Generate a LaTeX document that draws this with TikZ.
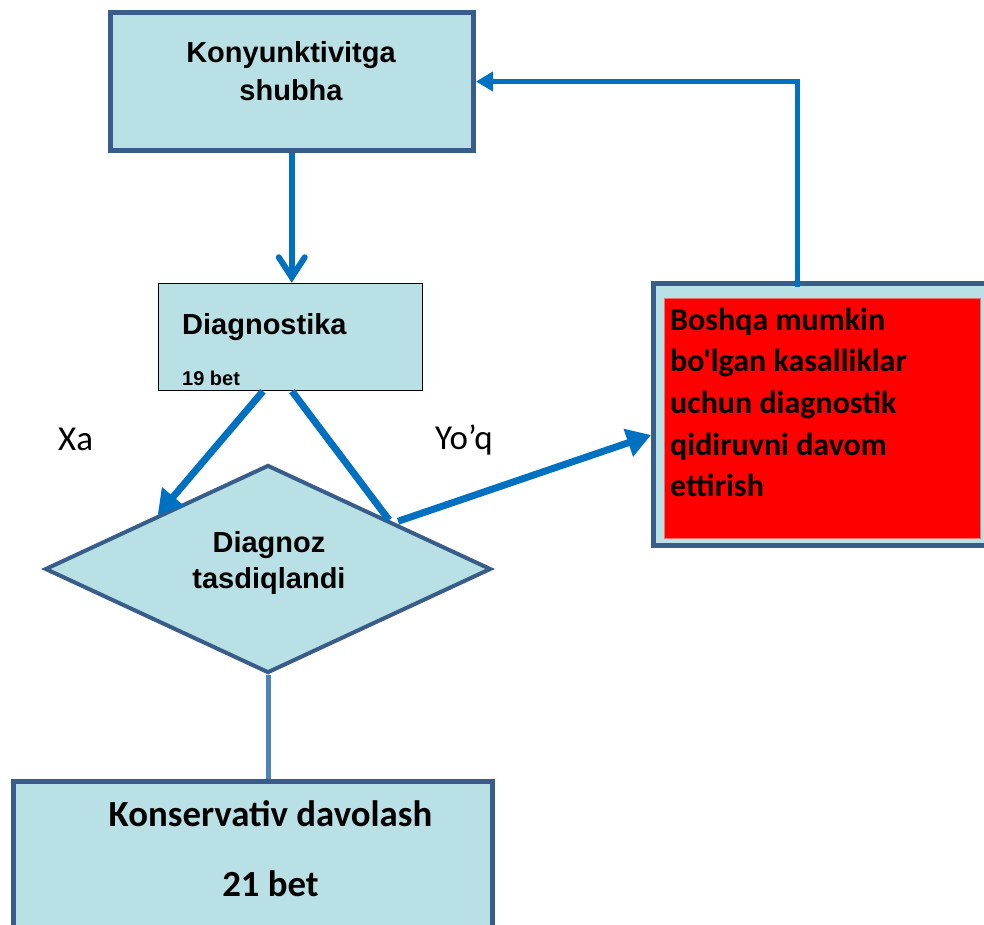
\documentclass[tikz,border=0pt]{standalone}
\usepackage{fontspec}
\setmainfont{Liberation Sans}
\newfontfamily\calib{Carlito}
\usetikzlibrary{arrows.meta,shapes.geometric,calc}
\definecolor{boxfill}{RGB}{185,224,228}
\definecolor{boxline}{RGB}{56,93,138}
\definecolor{arrblue}{RGB}{0,112,192}
\definecolor{linkblue}{RGB}{79,129,189}
\definecolor{redline}{RGB}{240,110,110}
\begin{document}
\begin{tikzpicture}[x=1pt,y=-1pt,
  box/.style={rectangle, draw=boxline, fill=boxfill, line width=5pt, inner sep=0pt},
  atxt/.style={inner sep=0pt, font=\bfseries\fontsize{29}{29}\selectfont},
  ctxt/.style={inner sep=0pt, font=\calib\fontsize{35}{35}\selectfont},
  rtxt/.style={inner sep=0pt, anchor=base west, font=\calib\bfseries\fontsize{32}{32}\selectfont},
  btxt/.style={inner sep=0pt, anchor=base, font=\calib\bfseries\fontsize{36.8}{36.8}\selectfont},
  conn/.style={draw=arrblue, line width=7pt},
  fullhead/.style={-{Triangle[length=24pt,width=28pt]}}
]
\useasboundingbox (0,0) rectangle (984,924);

% boxes
\node[box, minimum width=363.5pt, minimum height=138pt] (top) at (291.75,81.5) {};
\node[rectangle, draw=black, fill=boxfill, line width=1.5pt, inner sep=0pt,
      minimum width=264pt, minimum height=107pt] (diag) at (290.5,337) {};
\node[diamond, draw=boxline, fill=boxfill, line width=4pt, inner sep=0pt,
      minimum width=446pt, minimum height=208pt] (dia) at (268,569) {};
\node[box, minimum width=336.5pt, minimum height=262pt] (red) at (821.75,414.5) {};
\node[rectangle, draw=redline, fill=red, line width=1pt, inner sep=0pt,
      minimum width=316pt, minimum height=240pt] (redin) at (822,418) {};
\node[box, minimum width=479pt, minimum height=160pt] (bot) at (253,861.5) {};

% texts
\node[atxt, anchor=base] (t1) at (291,62) {Konyunktivitga};
\node[atxt, anchor=base] (t2) at (291,100) {shubha};
\node[atxt, anchor=base west] (d1) at (182,334) {Diagnostika};
\node[inner sep=0pt, anchor=base west, font=\bfseries\fontsize{20}{20}\selectfont] (d2) at (182,385) {19 bet};
\node[atxt, anchor=base] (q1) at (269,552) {Diagnoz};
\node[atxt, anchor=base] (q2) at (269,588) {tasdiqlandi};
\node[ctxt, anchor=base west] (xa) at (58,450) {Xa};
\node[ctxt, anchor=base west] (yoq) at (435,449) {Yo’q};
\node[rtxt] (r1) at (670,330) {Boshqa mumkin};
\node[rtxt] (r2) at (670,371.5) {bo'lgan kasalliklar};
\node[rtxt] (r3) at (670,413) {uchun diagnostik};
\node[rtxt] (r4) at (670,455) {qidiruvni davom};
\node[rtxt] (r5) at (670,496.5) {ettirish};
\node[btxt] (b1) at (270.5,826) {Konservativ davolash};
\node[btxt] (b2) at (270.5,896) {21 bet};

% connectors
\draw[conn, line width=6pt, -{Straight Barb[length=20pt,width=26pt,line cap=round]}]
  (top.south) -- (top.south |- diag.north);
\draw[conn, fullhead] ([xshift=-27.5pt]diag.south) -- ($(dia.north)!0.49!(dia.west)$);
\draw[conn] ([xshift=1.5pt]diag.south) -- ($(dia.north)!0.538!(dia.east)$);
\draw[conn, fullhead] ([yshift=3pt]$(dia.north)!0.578!(dia.east)$) -- ([yshift=-20.5pt]red.west);
\draw[conn, line width=5pt, -{Triangle[length=17pt,width=19pt]}]
  ([xshift=-24.75pt,yshift=-6pt]red.north) |- (top.east);
\draw[draw=linkblue, line width=5pt] (dia.south) -- (dia.south |- bot.north);
\end{tikzpicture}
\end{document}
